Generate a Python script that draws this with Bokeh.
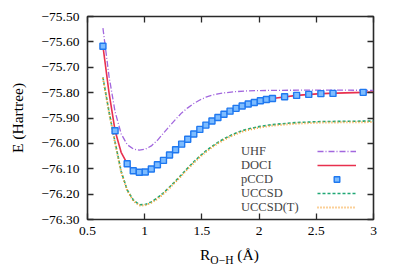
from bokeh.plotting import figure
from bokeh.models import (Range1d, FixedTicker, LinearAxis, Legend, LegendItem, Div)
from bokeh.layouts import column
from bokeh.core.properties import value
from bokeh.embed import file_html
from bokeh.resources import INLINE

# ---------------- data (R in Angstrom, E in Hartree) ----------------
r_pccd = [0.635, 0.741, 0.847, 0.900, 0.953, 1.005, 1.058, 1.111, 1.164, 1.217,
          1.270, 1.323, 1.376, 1.429, 1.482, 1.535, 1.588, 1.640, 1.693, 1.746,
          1.799, 1.852, 1.905, 1.958, 2.011, 2.064, 2.117, 2.223, 2.328, 2.434,
          2.540, 2.646, 2.910]
e_pccd = [-75.617, -75.950, -76.080, -76.108, -76.114, -76.113, -76.101, -76.084, -76.067, -76.046,
          -76.025, -76.003, -75.984, -75.963, -75.945, -75.928, -75.912, -75.898, -75.885, -75.873,
          -75.862, -75.853, -75.845, -75.839, -75.832, -75.827, -75.823, -75.816, -75.811, -75.807,
          -75.804, -75.803, -75.799]

r_doci = [0.635, 0.688, 0.741, 0.794, 0.847, 0.900, 0.953, 1.005, 1.058, 1.111,
          1.164, 1.217, 1.270, 1.323, 1.429, 1.535, 1.640, 1.746, 1.852, 1.958,
          2.117, 2.328, 2.540, 2.752, 3.000]
e_doci = [-75.617, -75.800, -75.950, -76.035, -76.080, -76.106, -76.114, -76.113, -76.101, -76.084,
          -76.067, -76.046, -76.025, -76.003, -75.963, -75.928, -75.898, -75.873, -75.853, -75.839,
          -75.823, -75.811, -75.804, -75.801, -75.798]

r_uhf = [0.635, 0.688, 0.741, 0.794, 0.847, 0.900, 0.953, 1.005, 1.058, 1.111,
         1.164, 1.217, 1.270, 1.323, 1.376, 1.429, 1.482, 1.535, 1.588, 1.640,
         1.693, 1.799, 1.905, 2.117, 2.540, 3.000]
e_uhf = [-75.546, -75.735, -75.875, -75.962, -76.005, -76.022, -76.027, -76.023, -76.010, -75.988,
         -75.960, -75.932, -75.905, -75.880, -75.860, -75.843, -75.829, -75.818, -75.810, -75.805,
         -75.801, -75.796, -75.793, -75.791, -75.790, -75.791]

r_cc = [0.635, 0.688, 0.741, 0.794, 0.847, 0.900, 0.953, 1.005, 1.058, 1.111,
        1.164, 1.217, 1.270, 1.323, 1.376, 1.429, 1.482, 1.535, 1.588, 1.640,
        1.693, 1.746, 1.799, 1.852, 1.905, 2.011, 2.117, 2.328, 2.540, 2.752, 3.000]
e_uccsd = [-75.740, -75.875, -75.995, -76.110, -76.183, -76.223, -76.242, -76.241, -76.231, -76.215,
           -76.195, -76.172, -76.148, -76.123, -76.097, -76.073, -76.050, -76.030, -76.012, -75.996,
           -75.982, -75.970, -75.959, -75.950, -75.943, -75.933, -75.926, -75.918, -75.914, -75.913,
           -75.912]
e_uccsdt = [-75.742, -75.878, -75.998, -76.113, -76.186, -76.226, -76.245, -76.244, -76.234, -76.219,
            -76.199, -76.176, -76.152, -76.127, -76.101, -76.077, -76.054, -76.034, -76.016, -76.000,
            -75.986, -75.974, -75.963, -75.954, -75.947, -75.937, -75.930, -75.922, -75.918, -75.917,
            -75.916]

series_names = ["UHF", "DOCI", "pCCD", "UCCSD", "UCCSD(T)"]

x_ticks = [0.5, 1.0, 1.5, 2.0, 2.5, 3.0]
x_tick_labels = ["0.5", "1", "1.5", "2", "2.5", "3"]
y_ticks = [-75.5, -75.6, -75.7, -75.8, -75.9, -76.0, -76.1, -76.2, -76.3]
y_tick_labels = ["\u221275.50", "\u221275.60", "\u221275.70", "\u221275.80", "\u221275.90",
                 "\u221276.00", "\u221276.10", "\u221276.20", "\u221276.30"]

FONT = "Liberation Serif"

p = figure(width=393, height=246, output_backend="svg", toolbar_location=None,
           x_range=Range1d(0.5, 3.0), y_range=Range1d(-76.30, -75.50),
           min_border_left=87, min_border_top=16, min_border_right=20, min_border_bottom=27)
p.background_fill_color = "white"
p.border_fill_color = "white"
p.outline_line_color = "#2a2a2a"
p.outline_line_width = 1.6
p.xgrid.visible = False
p.ygrid.visible = False

# main axes
xa = p.xaxis[0]
xa.ticker = FixedTicker(ticks=x_ticks)
xa.major_label_overrides = dict(zip(x_ticks, x_tick_labels))
ya = p.yaxis[0]
ya.ticker = FixedTicker(ticks=y_ticks)
ya.major_label_overrides = dict(zip(y_ticks, y_tick_labels))
for ax in (xa, ya):
    ax.major_tick_in = 6
    ax.major_tick_out = 0
    ax.minor_tick_line_color = None
    ax.axis_line_color = None
    ax.major_tick_line_color = "#2a2a2a"
    ax.major_tick_line_width = 1.3
    ax.major_label_text_font = FONT
    ax.major_label_text_font_size = "13.5px"
    ax.major_label_text_color = "black"
xa.major_label_standoff = 7
ya.major_label_standoff = 8
ya.axis_label = "E (Hartree)"
ya.axis_label_text_font = FONT
ya.axis_label_text_font_size = "15.5px"
ya.axis_label_text_font_style = "normal"
ya.axis_label_text_color = "black"
ya.axis_label_standoff = 13

# mirrored ticks on top and right
top = LinearAxis(ticker=FixedTicker(ticks=x_ticks))
right = LinearAxis(ticker=FixedTicker(ticks=y_ticks))
for ax in (top, right):
    ax.major_tick_in = 6
    ax.major_tick_out = 0
    ax.minor_tick_line_color = None
    ax.axis_line_color = None
    ax.major_tick_line_color = "#2a2a2a"
    ax.major_tick_line_width = 1.3
    ax.major_label_text_font_size = "1px"
    ax.major_label_text_color = None
    ax.major_label_standoff = 0
p.add_layout(top, "above")
p.add_layout(right, "right")

# curves
r5 = p.line(r_cc, e_uccsd, line_color="#1fa774", line_width=1.6, line_dash="3 2")
r6 = p.line(r_cc, e_uccsdt, line_color="#f7a235", line_width=2.0, line_dash="1 2")
r1 = p.line(r_uhf, e_uhf, line_color="#a267de", line_width=1.3, line_dash="6 2 1 2")
r2 = p.line(r_doci, e_doci, line_color="#e8304e", line_width=1.6)
r3 = p.scatter(r_pccd, e_pccd, marker="square", size=6, fill_color="#7dbcff",
               line_color="#1f78f0", line_width=1.4)
renderers = [r1, r2, r3, r5, r6]

# legend (gnuplot style): names on the left, one small legend per row ...
row_offsets = [60, 46, 32, 18, 4]   # px from the frame bottom (layout only)
for name, off in zip(series_names, row_offsets):
    p.add_layout(Legend(items=[LegendItem(label=value(name), renderers=[])],
                        location=(154, off), glyph_width=0, glyph_height=13, label_height=13,
                        label_standoff=0, spacing=0, padding=0, margin=0,
                        label_text_font=FONT, label_text_font_size="12.5px",
                        border_line_color=None, background_fill_alpha=0), "center")
# ... and the line / marker samples on the right
leg_glyph = Legend(items=[LegendItem(label=value(""), renderers=[r]) for r in renderers],
                   location=(230, 5), glyph_width=39, glyph_height=14, label_height=14,
                   label_width=0, label_standoff=0, spacing=0, padding=0, margin=0,
                   label_text_font_size="1px",
                   border_line_color=None, background_fill_alpha=0)
p.add_layout(leg_glyph, "center")

# x axis title with a real subscript: R_{O-H} (Å)
xlabel = Div(text='R<sub style="font-size:11.5px;vertical-align:-4px">O\u2212H</sub> (\u00c5)',
             width=393, height=24, margin=(0, 0, 0, 0),
             styles={"font-family": "'Liberation Serif', serif", "font-size": "15.5px",
                     "line-height": "17px", "padding-left": "200px", "color": "black",
                     "white-space": "nowrap"})

open("out.html", "w").write(file_html(column(p, xlabel, spacing=0), INLINE))
